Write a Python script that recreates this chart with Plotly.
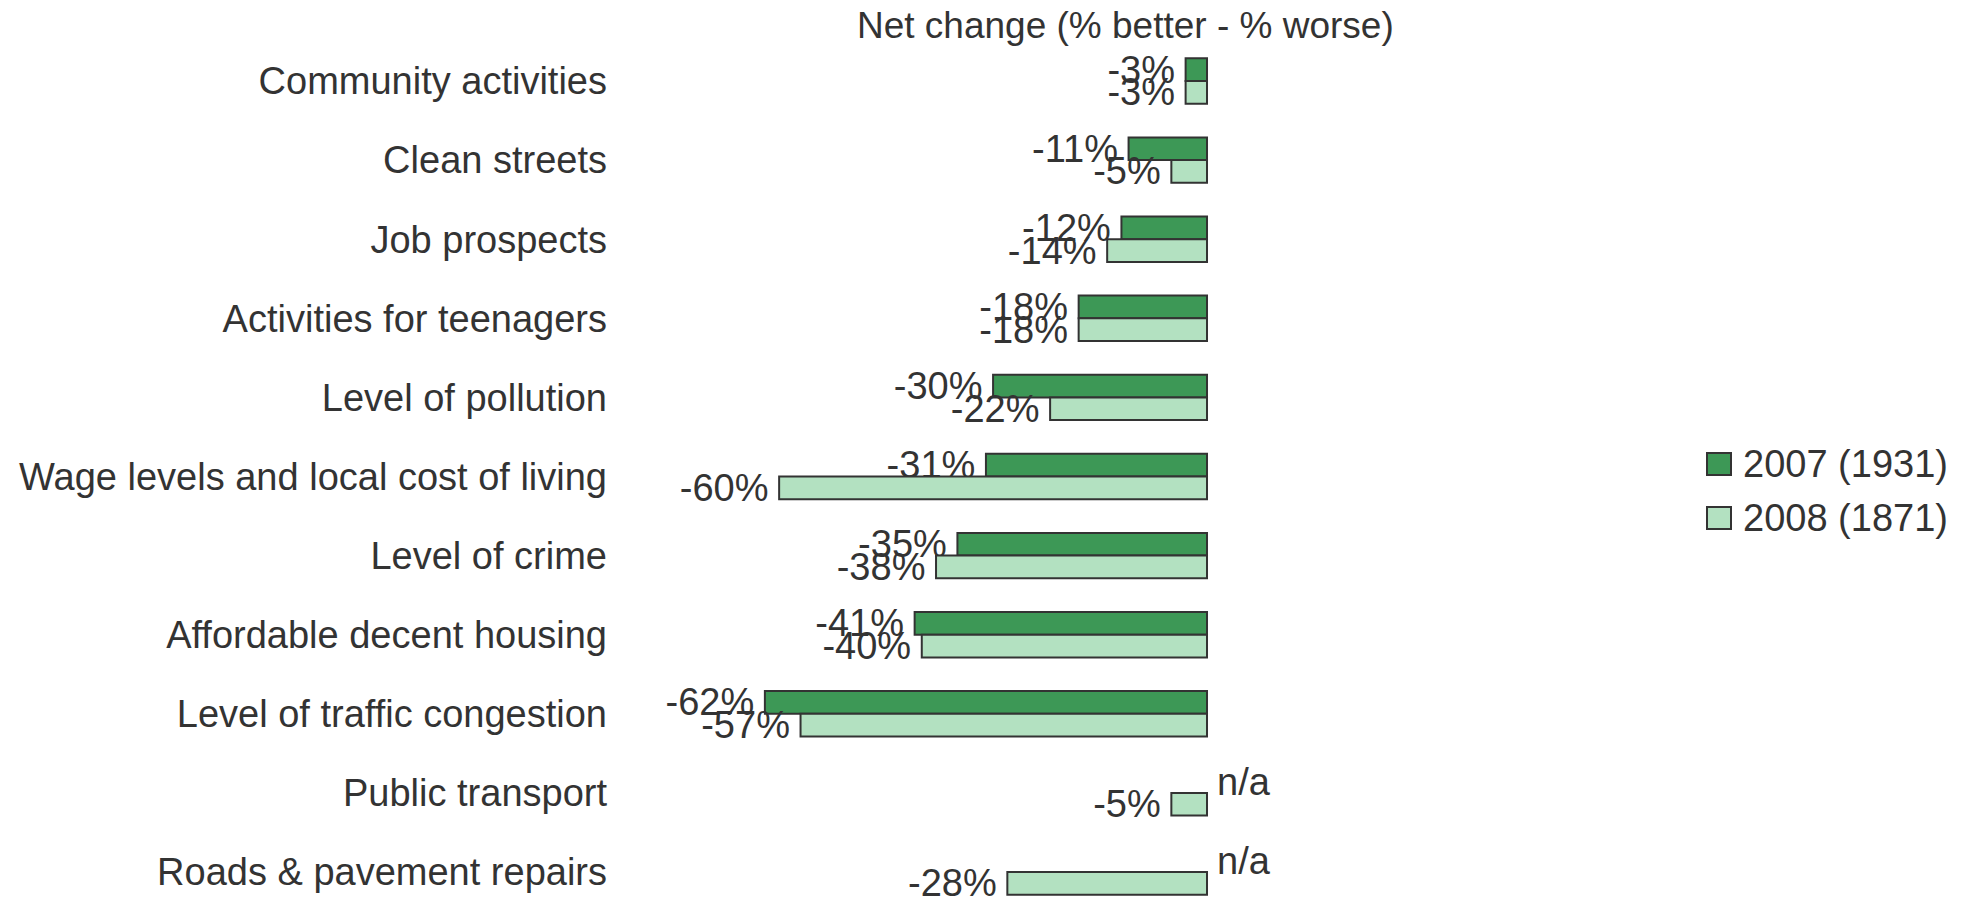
import plotly.graph_objects as go

# ---- data ----
categories = [
    "Community activities",
    "Clean streets",
    "Job prospects",
    "Activities for teenagers",
    "Level of pollution",
    "Wage levels and local cost of living",
    "Level of crime",
    "Affordable decent housing",
    "Level of traffic congestion",
    "Public transport",
    "Roads & pavement repairs",
]
series_names = ["2007 (1931)", "2008 (1871)"]
values_2007 = [-3, -11, -12, -18, -30, -31, -35, -41, -62, None, None]
values_2008 = [-3, -5, -14, -18, -22, -60, -38, -40, -57, -5, -28]
na_label = "n/a"
axis_title = "Net change (% better - % worse)"

# ---- style ----
W, H = 1975, 897
L, R, T, B = 608, 333, 41, 0
FONT = "Liberation Sans, Arial, sans-serif"
TXT = "#333333"
DARK = "#3d9856"
LIGHT = "#b3e1c1"
EDGE = "#333333"
FS = 38


def lbl(vals):
    # thin space gives the label a little more room from the bar end
    return [("" if v is None else f"{v}%\u2009") for v in vals]


fig = go.Figure()
for name, vals, col in [(series_names[0], values_2007, DARK), (series_names[1], values_2008, LIGHT)]:
    fig.add_trace(go.Bar(
        y=categories, x=vals, orientation="h", name=name,
        marker=dict(color=col, line=dict(color=EDGE, width=2)),
        text=lbl(vals), textposition="outside", cliponaxis=False,
        constraintext="none",
        textfont=dict(family=FONT, size=FS, color=TXT),
        showlegend=False, hoverinfo="x+y+name",
    ))

plot_w = W - L - R
plot_h = H - T - B


def px_x(p):
    return (p - L) / plot_w


def px_y(p):
    return (H - B - p) / plot_h


annotations = []
# n/a labels where 2007 has no value
for cat, v in zip(categories, values_2007):
    if v is None:
        annotations.append(dict(
            x=0, y=cat, xref="x", yref="y", text=na_label, showarrow=False,
            xanchor="left", yanchor="middle", xshift=8, yshift=11,
            font=dict(family=FONT, size=FS, color=TXT)))

# axis title on top
annotations.append(dict(
    x=px_x(1125), y=px_y(25), xref="paper", yref="paper", text=axis_title,
    showarrow=False, xanchor="center", yanchor="middle",
    font=dict(family=FONT, size=37, color=TXT)))

# custom legend
shapes = []
legend_items = [(series_names[0], DARK, 464), (series_names[1], LIGHT, 518)]
for name, col, cy in legend_items:
    shapes.append(dict(type="rect", xref="paper", yref="paper",
                       x0=px_x(1707), x1=px_x(1731), y0=px_y(cy + 11), y1=px_y(cy - 11),
                       fillcolor=col, line=dict(color=EDGE, width=2)))
    annotations.append(dict(
        x=px_x(1741), y=px_y(cy), xref="paper", yref="paper", text=name,
        showarrow=False, xanchor="left", yanchor="middle",
        font=dict(family=FONT, size=FS, color=TXT)))

fig.update_layout(
    width=W, height=H,
    margin=dict(l=L, r=R, t=T, b=B, pad=0),
    barmode="group", bargap=0.426, bargroupgap=0,
    paper_bgcolor="white", plot_bgcolor="white",
    font=dict(family=FONT, size=FS, color=TXT),
    annotations=annotations, shapes=shapes,
    showlegend=False,
)
fig.update_xaxes(range=[-84, 61], showgrid=False, zeroline=False,
                 showticklabels=False, showline=False, ticks="")
fig.update_yaxes(range=[10.316, -0.506], showgrid=False, zeroline=False,
                 showline=False, ticks="", automargin=False,
                 tickfont=dict(family=FONT, size=FS, color=TXT))

fig.write_html("out.html", config={"displayModeBar": False},
               post_script="document.body.style.margin='0';")
